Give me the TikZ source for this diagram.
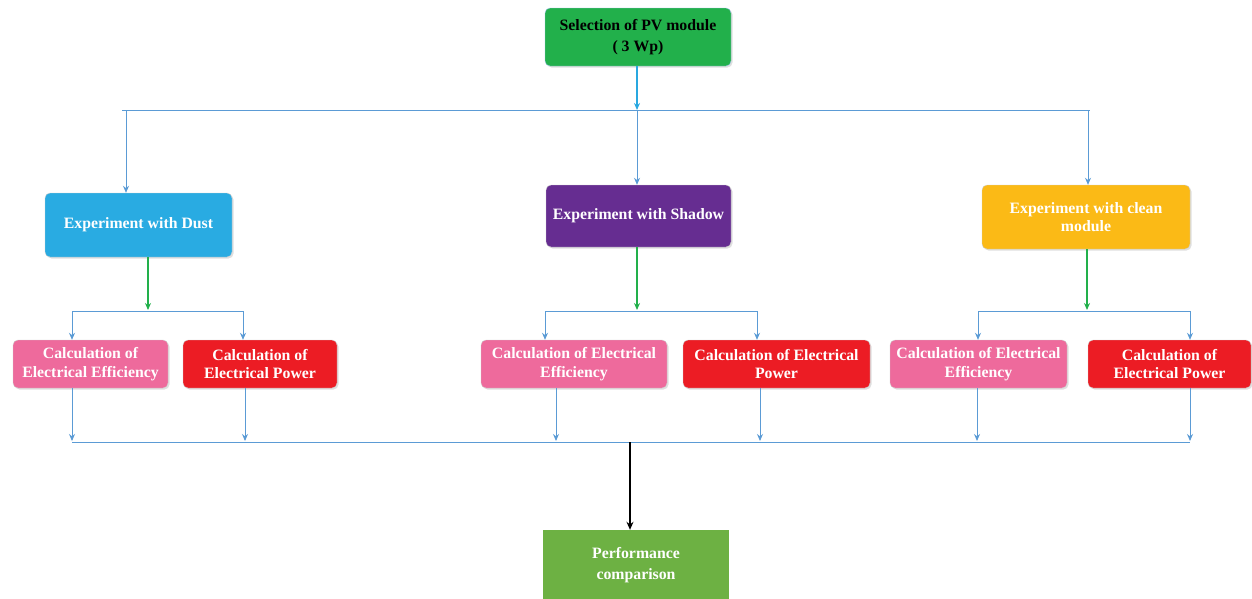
\documentclass[tikz,border=0pt]{standalone}
\usepackage{fontspec}
\setmainfont{Liberation Serif}
\usetikzlibrary{arrows.meta,shadows}
\definecolor{topgreen}{HTML}{22B04B}
\definecolor{dustblue}{HTML}{29ABE2}
\definecolor{shadowpurple}{HTML}{662D91}
\definecolor{cleanyellow}{HTML}{FBBA16}
\definecolor{effpink}{HTML}{EE6A9C}
\definecolor{powred}{HTML}{EC1C24}
\definecolor{perfgreen}{HTML}{6DB143}
\definecolor{linkblue}{HTML}{5B9BD5}
\definecolor{topblue}{HTML}{29A8E0}
\definecolor{arrgreen}{HTML}{22B04B}
\tikzset{
  boxbase/.style={rectangle, rounded corners=5pt, align=center, font=\bfseries\fontsize{15.8}{18.5}\selectfont,
    text=white, inner sep=2pt, draw=white!80!black, line width=0.4pt,
    drop shadow={opacity=0.25, shadow xshift=1.5pt, shadow yshift=-1.5pt}},
  link/.style={draw=linkblue, line width=0.9pt},
  linkarr/.style={link, -{Stealth[length=7pt,width=6pt]}},
  greenarr/.style={draw=arrgreen, line width=1.4pt, -{Stealth[length=7pt,width=6pt]}},
  toparr/.style={draw=topblue, line width=1.4pt, -{Stealth[length=7pt,width=6pt]}},
  blackarr/.style={draw=black, line width=1.8pt, -{Stealth[length=8pt,width=7pt]}},
}
\begin{document}
\begin{tikzpicture}[x=1pt,y=-1pt]
\useasboundingbox (0,0) rectangle (1252,598);
% top node
\node[boxbase, fill=topgreen, text=black, draw=linkblue!60, minimum width=186pt, minimum height=58pt, font=\bfseries\fontsize{15.8}{21}\selectfont] (top) at (638,37) {Selection of PV module\\( 3 Wp)};
% experiments
\node[boxbase, fill=dustblue, minimum width=187pt, minimum height=64pt] (dust) at (138.5,225) {Experiment with Dust};
\node[boxbase, fill=shadowpurple, minimum width=185pt, minimum height=62pt] (shadow) at (638.5,216) {Experiment with Shadow};
\node[boxbase, fill=cleanyellow, minimum width=208pt, minimum height=64pt] (clean) at (1086,217) {Experiment with clean\\module};
% calculations
\node[boxbase, fill=effpink, minimum width=155pt, minimum height=48pt] (deff) at (90.5,364) {Calculation of\\Electrical Efficiency};
\node[boxbase, fill=powred, minimum width=154pt, minimum height=48pt] (dpow) at (260,364) {Calculation of\\Electrical Power};
\node[boxbase, fill=effpink, minimum width=186pt, minimum height=48pt] (seff) at (574,364) {Calculation of Electrical\\Efficiency};
\node[boxbase, fill=powred, minimum width=187pt, minimum height=48pt] (spow) at (776.5,364) {Calculation of Electrical\\Power};
\node[boxbase, fill=effpink, minimum width=177pt, minimum height=48pt] (ceff) at (978.5,364) {Calculation of Electrical\\Efficiency};
\node[boxbase, fill=powred, minimum width=163pt, minimum height=48pt] (cpow) at (1169.5,364) {Calculation of\\Electrical Power};
% performance
\node[rectangle, fill=perfgreen, text=white, align=center, font=\bfseries\fontsize{15.8}{21}\selectfont, minimum width=186pt, minimum height=70pt] (perf) at (636,565) {Performance\\comparison};
% top bus
\coordinate (busL) at (122,110);
\coordinate (busR) at (1090,110);
\coordinate (tD) at (126,110);
\coordinate (tS) at (637,110);
\coordinate (tC) at (1088,110);
\draw[toparr] (top.south -| tS) -- (tS);
\draw[link] (busL) -- (busR);
\draw[linkarr] (tD) -- (tD |- dust.north);
\draw[linkarr] (tS) -- (tS |- shadow.north);
\draw[linkarr] (tC) -- (tC |- clean.north);
% dust branch
\coordinate (dB) at (148,310);
\coordinate (dBL) at (72,311);
\coordinate (dBR) at (243,311);
\draw[greenarr] (dust.south -| dB) -- (dB);
\draw[link] (dBL) -- (dBR);
\draw[linkarr] (dBL) -- (dBL |- deff.north);
\draw[linkarr] (dBR) -- (dBR |- dpow.north);
% shadow branch
\coordinate (sB) at (637,310);
\coordinate (sBL) at (545,311);
\coordinate (sBR) at (757,311);
\draw[greenarr] (shadow.south -| sB) -- (sB);
\draw[link] (sBL) -- (sBR);
\draw[linkarr] (sBL) -- (sBL |- seff.north);
\draw[linkarr] (sBR) -- (sBR |- spow.north);
% clean branch
\coordinate (cB) at (1087,310);
\coordinate (cBL) at (978,311);
\coordinate (cBR) at (1190,311);
\draw[greenarr] (clean.south -| cB) -- (cB);
\draw[link] (cBL) -- (cBR);
\draw[linkarr] (cBL) -- (cBL |- ceff.north);
\draw[linkarr] (cBR) -- (cBR |- cpow.north);
% bottom bus
\coordinate (bL) at (72,442);
\coordinate (bR) at (1190,442);
\draw[link] (bL) -- (bR);
\foreach \n/\x in {deff/72, dpow/245, seff/556, spow/760, ceff/977, cpow/1190}{
  \draw[linkarr] (\n.south -| \x,0) -- (\x,441);
}
\coordinate (bM) at (630,442);
\draw[blackarr] (bM) -- (bM |- perf.north);
\end{tikzpicture}
\end{document}
